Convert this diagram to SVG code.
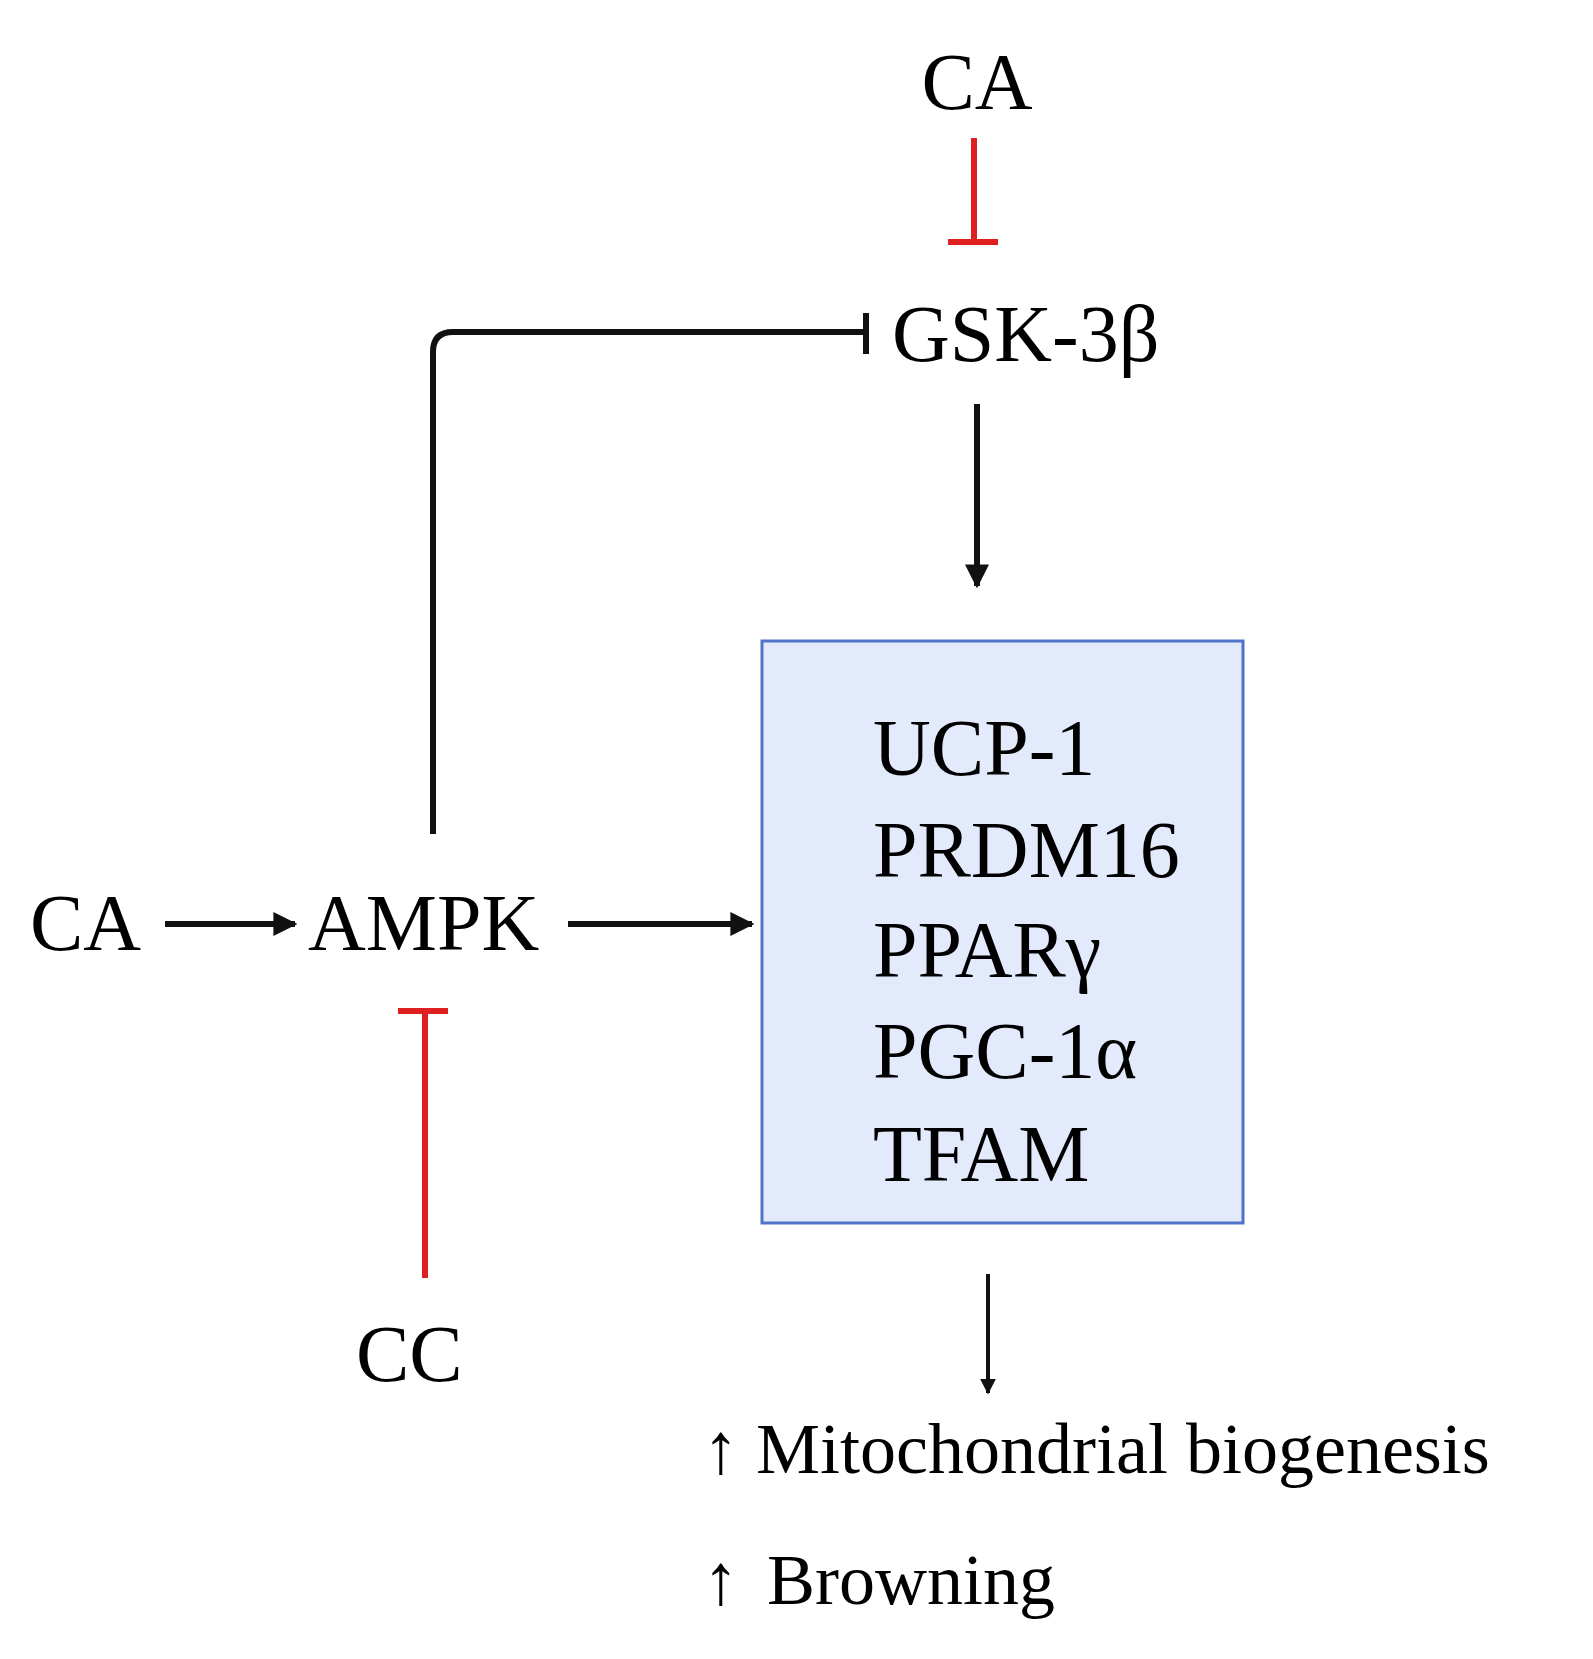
<svg xmlns="http://www.w3.org/2000/svg" width="1593" height="1659" viewBox="0 0 1593 1659">
<style>
text{font-family:"Liberation Serif","DejaVu Serif",serif;fill:#000}
.big{font-size:80px}
.med{font-size:72px}
.blk{stroke:#111;stroke-width:6;fill:none}
.red{stroke:#e02020;stroke-width:6;fill:none}
</style>
<defs>
<marker id="ah" viewBox="0 0 10 10" refX="9" refY="5" markerWidth="4" markerHeight="4" orient="auto" markerUnits="strokeWidth"><path d="M0,0L10,5L0,10z" fill="#111"/></marker>
</defs>
<rect width="1593" height="1659" fill="#fff"/>
<g id="ca-top"><text class="big" x="977" y="109" text-anchor="middle">CA</text></g>
<g id="gsk"><text class="big" x="892" y="361">GSK-3β</text></g>
<g id="ca-left"><text class="big" x="30" y="950">CA</text></g>
<g id="ampk"><text class="big" x="308" y="950">AMPK</text></g>
<g id="cc"><text class="big" x="356" y="1381">CC</text></g>
<g id="box">
<rect x="762" y="641" width="481" height="582" fill="#e2eafb" stroke="#4f74c8" stroke-width="3"/>
<text class="big" x="873" y="775">UCP-1</text>
<text class="big" x="873" y="877">PRDM16</text>
<text class="big" x="873" y="977">PPARγ</text>
<text class="big" x="873" y="1078">PGC-1α</text>
<text class="big" x="873" y="1181">TFAM</text>
</g>
<g id="outcomes">
<text class="med" x="703" y="1473">↑</text><text class="med" x="756" y="1473">Mitochondrial biogenesis</text>
<text class="med" x="703" y="1604">↑</text><text class="med" x="767" y="1604">Browning</text>
</g>
<g id="connectors">
<path class="red" d="M974,138V242M948,242H998"/>
<path class="blk" d="M433,834V352Q433,332 453,332H866M866,313V354"/>
<path class="blk" d="M977,404V586" marker-end="url(#ah)"/>
<path class="blk" d="M165,924H295" marker-end="url(#ah)"/>
<path class="blk" d="M568,924H752" marker-end="url(#ah)"/>
<path class="red" d="M398,1011H448M425,1011V1278"/>
<path class="blk" style="stroke-width:4" d="M988,1274V1393" marker-end="url(#ah)"/>
</g>
</svg>
